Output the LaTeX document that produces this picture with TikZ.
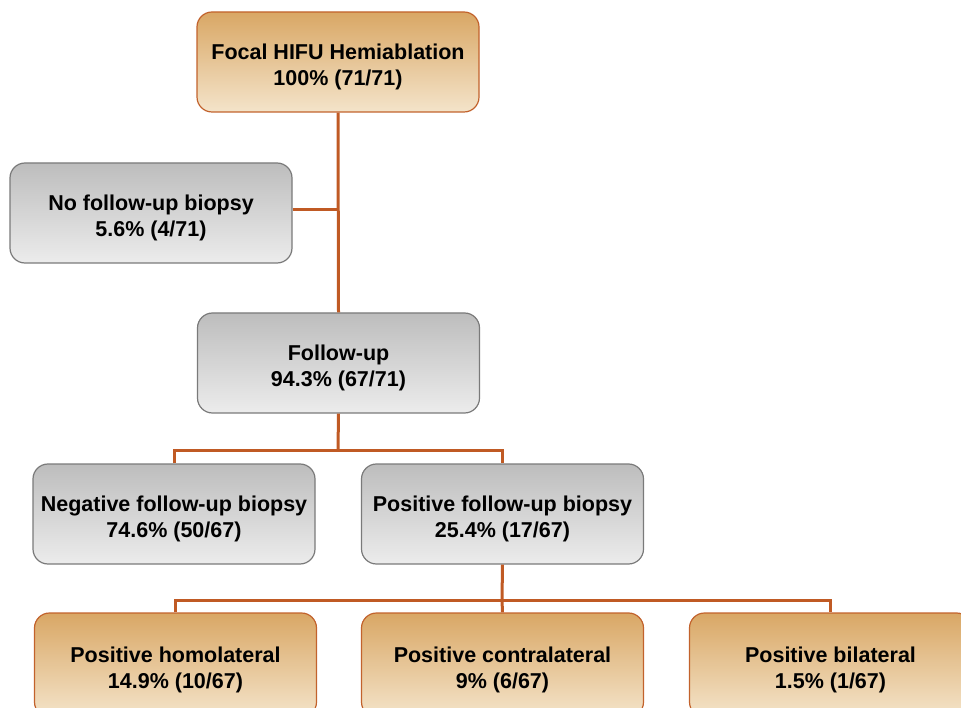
\documentclass[tikz,border=0pt]{standalone}
\usepackage{fontspec}
\setmainfont{Liberation Sans}
\definecolor{ortop}{HTML}{D9A765}
\definecolor{orbot}{HTML}{F4E4CA}
\definecolor{orline}{HTML}{C2622C}
\definecolor{grtop}{HTML}{BDBDBD}
\definecolor{grbot}{HTML}{ECECEC}
\definecolor{grline}{HTML}{7A7A7A}
\definecolor{conn}{HTML}{C05A24}
\newcommand{\topstrut}{\rule{0pt}{26pt}}
\begin{document}
\begin{tikzpicture}[x=1pt,y=-1pt,
  boxbase/.style={rounded corners=15pt, minimum width=282pt, minimum height=100pt, align=center, font=\bfseries\fontsize{21.5}{26}\selectfont, inner sep=1pt, line width=1.2pt},
  orbox/.style={boxbase, draw=orline, top color=ortop, bottom color=orbot},
  grbox/.style={boxbase, draw=grline, top color=grtop, bottom color=grbot},
  link/.style={draw=conn, line width=3pt}]
\useasboundingbox (0,0) rectangle (961,708);
\clip (0,0) rectangle (961,708);
\node[orbox] (top) at (338,62) {\topstrut Focal HIFU Hemiablation\\100\% (71/71)};
\node[grbox] (nofu) at (151,213) {\topstrut No follow-up biopsy\\5.6\% (4/71)};
\node[grbox] (fu) at (338.5,363) {\topstrut Follow-up\\94.3\% (67/71)};
\node[grbox] (neg) at (174,514) {\topstrut Negative follow-up biopsy\\74.6\% (50/67)};
\node[grbox] (pos) at (502.5,514) {\topstrut Positive follow-up biopsy\\25.4\% (17/67)};
\node[orbox, minimum height=104pt] (homo) at (175.5,665) {\topstrut Positive homolateral\\14.9\% (10/67)};
\node[orbox, minimum height=104pt] (contra) at (502.5,665) {\topstrut Positive contralateral\\9\% (6/67)};
\node[orbox, minimum height=104pt] (bi) at (830.5,665) {\topstrut Positive bilateral\\1.5\% (1/67)};
\coordinate (j1) at (338,210);
\coordinate (j2) at (338,450);
\coordinate (j3) at (502,600);
\draw[link] (top.south) -- (fu.north);
\draw[link] (nofu.east |- j1) -- (j1);
\draw[link] (fu.south) -- (j2);
\draw[link] (neg.north) |- (j2) -| (pos.north);
\draw[link] (pos.south) -- (j3);
\draw[link] (homo.north) |- (j3) -| (bi.north);
\draw[link] (j3) -- (contra.north);
\end{tikzpicture}
\end{document}
